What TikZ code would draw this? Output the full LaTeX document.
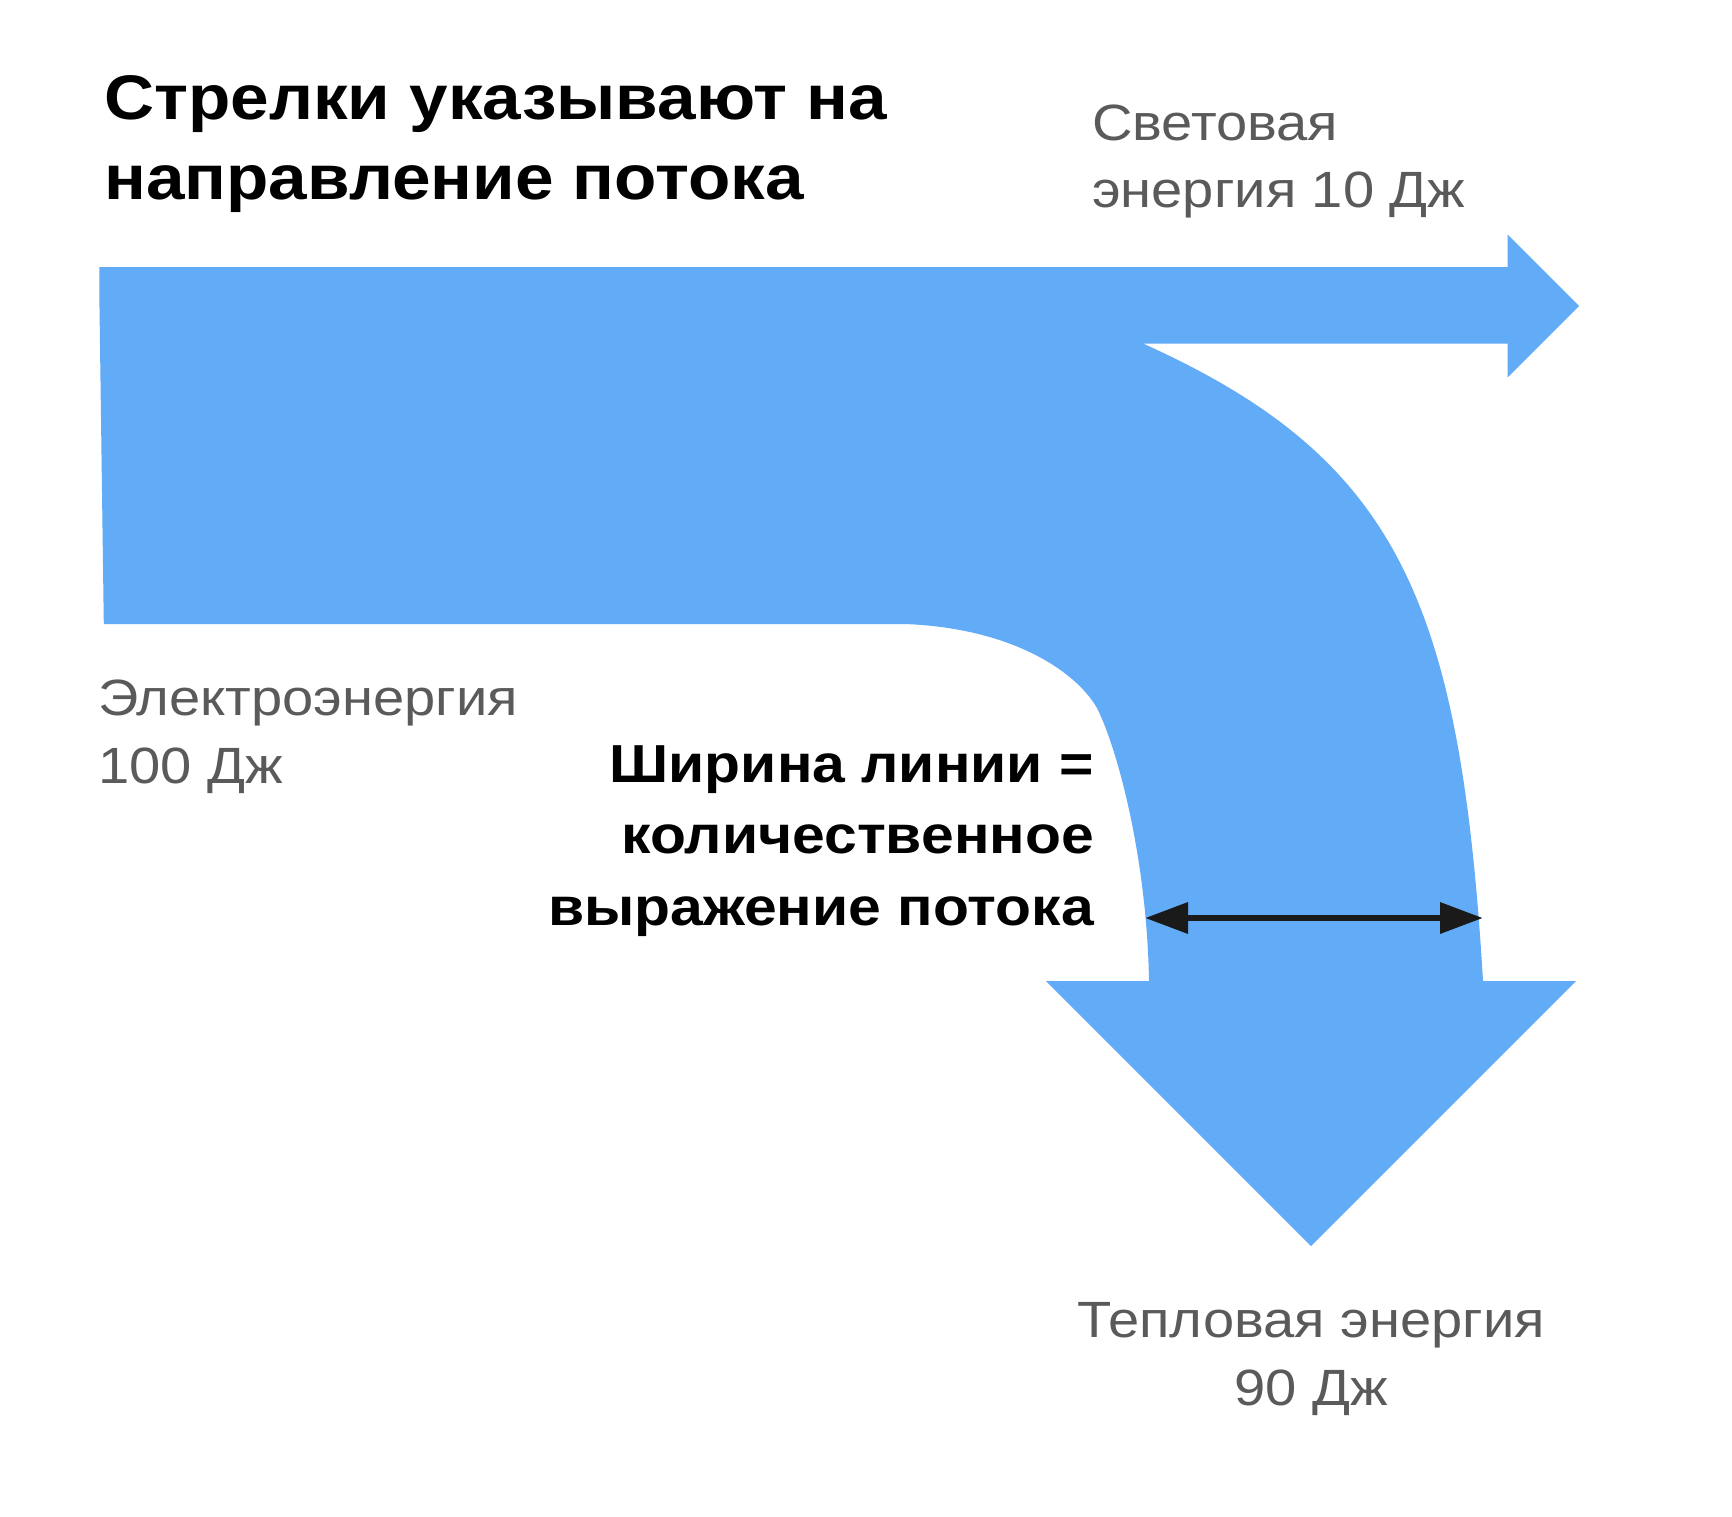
\documentclass[tikz,border=0pt]{standalone}
\usepackage{fontspec}
\setmainfont{Liberation Sans}
\newfontfamily\widesans[FakeStretch=1.1]{Liberation Sans}
\usetikzlibrary{arrows.meta}
\definecolor{flowblue}{HTML}{61ABF7}
\definecolor{labelgray}{HTML}{5A5A5A}
\definecolor{arrowblack}{HTML}{1A1A1A}
\begin{document}
\begin{tikzpicture}[x=1pt,y=-1pt,
  titletext/.style={font=\widesans\bfseries\fontsize{63}{70}\selectfont, anchor=base west, inner sep=0pt, text=black},
  notetext/.style={font=\widesans\bfseries\fontsize{53.5}{60}\selectfont, anchor=base east, inner sep=0pt, text=black},
  graytext/.style={font=\widesans\fontsize{51}{60}\selectfont, inner sep=0pt, text=labelgray},
  widtharrow/.style={draw=arrowblack, line width=6.5pt, {Triangle[length=43pt,width=30pt]}-{Triangle[length=43pt,width=30pt]}}
]
\useasboundingbox (0,0) rectangle (1732,1516);

% flow shape
\fill[flowblue] (99.4,267) -- (1507.5,267) -- (1507.5,234.3) -- (1579,306) -- (1507.5,377.5) -- (1507.5,343.5) -- (1143,343.5)
  .. controls (1398,458.3) and (1460.2,601) .. (1483,981)
  -- (1576,981) -- (1311,1246) -- (1046,981) -- (1149,981)
  .. controls (1147,860) and (1118,750) .. (1097,708)
  .. controls (1075,670) and (1010,628) .. (905,624)
  -- (103.8,624) -- (99.4,300) -- cycle;

% title
\node[titletext] (t1) at (104,119) {Стрелки указывают на};
\node[titletext] (t2) at (104,199) {направление потока};

% gray labels
\node[graytext, anchor=base west] (l1) at (1092,140) {Световая};
\node[graytext, anchor=base west] (l2) at (1092,207) {энергия 10 Дж};
\node[graytext, anchor=base west] (e1) at (98,715) {Электроэнергия};
\node[graytext, anchor=base west] (e2) at (98,783) {100 Дж};
\node[graytext, anchor=base] (h1) at (1311,1337) {Тепловая энергия};
\node[graytext, anchor=base] (h2) at (1311,1405) {90 Дж};

% note
\node[notetext] (n1) at (1094,782) {Ширина линии =};
\node[notetext] (n2) at (1094,853) {количественное};
\node[notetext] (n3) at (1094,925) {выражение потока};

% width arrow
\coordinate (wl) at (1145,918);
\coordinate (wr) at (1483,918);
\draw[widtharrow] (wl) -- (wr);
\end{tikzpicture}
\end{document}
